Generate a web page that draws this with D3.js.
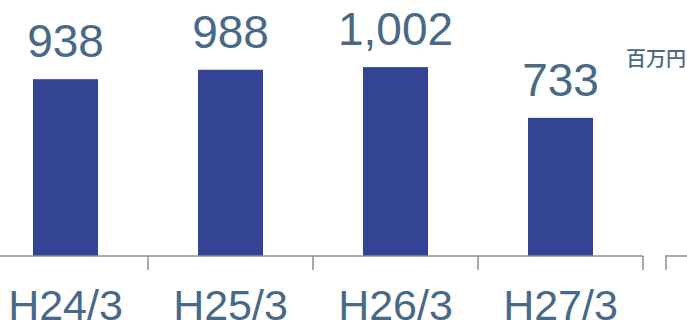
<!DOCTYPE html>
<html>
<head>
<meta charset="utf-8">
<script src="https://cdn.jsdelivr.net/npm/d3@7"></script>
<style>
  body { margin: 0; background: #fff; }
  svg { display: block; }
</style>
</head>
<body>
<svg id="chart" width="687" height="320"></svg>
<script>
// fiscal years and sales (million yen)
const years = ["H24/3", "H25/3", "H26/3", "H27/3"];
const sales = [938, 988, 1002, 733];
const unitLabel = "百万円";

const svg = d3.select("#chart");
const baseY = 256;
const textColor = "#486a88";

const x = d3.scaleBand()
  .domain(years)
  .range([-17, 643])
  .paddingInner(100 / 165)
  .paddingOuter(50 / 165);

const y = d3.scaleLinear()
  .domain([0, 1000])
  .range([baseY, 67.5]);

// bars
svg.append("g").selectAll("rect")
  .data(sales)
  .join("rect")
  .attr("x", (d, i) => x(years[i]))
  .attr("y", d => y(d))
  .attr("width", x.bandwidth())
  .attr("height", d => baseY - y(d))
  .attr("fill", "#344495");

// value labels
svg.append("g").selectAll("text")
  .data(sales)
  .join("text")
  .attr("x", (d, i) => x(years[i]) + x.bandwidth() / 2)
  .attr("y", d => y(d) - 22)
  .attr("text-anchor", "middle")
  .attr("font-family", "'Liberation Sans', Arial, sans-serif")
  .attr("font-size", 46)
  .attr("fill", textColor)
  .text(d => d3.format(",")(d));

// axis line with ticks at category boundaries
const axisG = svg.append("g").attr("stroke", "#8e8e8e").attr("stroke-width", 1.5).attr("fill", "none");
axisG.append("line")
  .attr("x1", 0).attr("x2", x.range()[1])
  .attr("y1", baseY).attr("y2", baseY);
const edge = d => x(d) - x.step() * x.paddingInner() / 2 + x.step();
axisG.selectAll("line.tick")
  .data(years)
  .join("line")
  .attr("class", "tick")
  .attr("x1", edge)
  .attr("x2", edge)
  .attr("y1", baseY).attr("y2", baseY + 14);

// broken continuation on the right
const nextStart = x.range()[1] + 23;
axisG.append("path")
  .attr("d", `M${nextStart},${baseY + 14}V${baseY}H687`);

// category labels
svg.append("g").selectAll("text")
  .data(years)
  .join("text")
  .attr("x", d => x(d) + x.bandwidth() / 2)
  .attr("y", 320)
  .attr("text-anchor", "middle")
  .attr("font-family", "'Liberation Sans', Arial, sans-serif")
  .attr("font-size", 43)
  .attr("fill", textColor)
  .text(d => d);

// unit
svg.append("text")
  .attr("x", 656)
  .attr("y", 66)
  .attr("text-anchor", "middle")
  .attr("font-family", "'Noto Sans CJK JP', sans-serif")
  .attr("font-size", 20)
  .attr("font-weight", 500)
  .attr("fill", textColor)
  .text(unitLabel);
</script>
</body>
</html>
